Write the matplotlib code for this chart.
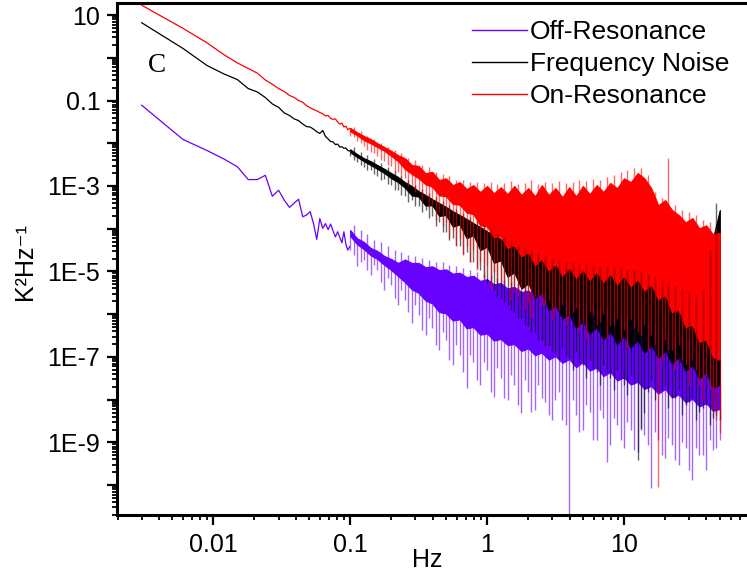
import numpy as np
import matplotlib.pyplot as plt
from matplotlib.lines import Line2D
from matplotlib.ticker import FixedLocator, LogLocator, FuncFormatter, NullFormatter

plt.rcParams['font.family'] = ['Liberation Sans', 'DejaVu Sans']

# Low frequency bins (Hz), clean part of the spectra
f_low = [0.003, 0.006, 0.009, 0.012, 0.015, 0.018, 0.021, 0.024, 0.027, 0.030,
         0.033, 0.036, 0.039, 0.042, 0.045, 0.048, 0.051, 0.054, 0.057, 0.060,
         0.063, 0.066, 0.069, 0.072, 0.075, 0.078, 0.081, 0.084, 0.087, 0.090,
         0.093, 0.096, 0.099]

# log10 of PSD (K^2/Hz)
off_low = [-1.11, -1.91, -2.17, -2.37, -2.55, -2.85, -2.85, -2.75, -3.24, -3.10,
           -3.33, -3.50, -3.40, -3.31, -3.72, -3.68, -3.60, -3.88, -4.25, -3.76,
           -3.99, -3.88, -4.02, -3.89, -4.05, -4.19, -4.07, -4.20, -4.33, -4.07,
           -4.36, -4.50, -4.42]
fn_low = [0.82, 0.22, -0.18, -0.38, -0.51, -0.72, -0.80, -0.93, -1.08, -1.16,
          -1.29, -1.35, -1.43, -1.47, -1.55, -1.61, -1.62, -1.67, -1.73, -1.77,
          -1.70, -1.84, -1.90, -1.96, -1.97, -2.03, -2.02, -2.09, -2.08, -2.12,
          -2.11, -2.17, -2.18]
on_low = [1.23, 0.69, 0.35, 0.07, -0.12, -0.25, -0.36, -0.52, -0.62, -0.72,
          -0.79, -0.88, -0.93, -1.00, -1.04, -1.12, -1.17, -1.21, -1.24, -1.28,
          -1.31, -1.36, -1.35, -1.42, -1.44, -1.43, -1.50, -1.55, -1.53, -1.62,
          -1.60, -1.68, -1.66]

# Noisy part: frequencies, with top of band, bottom of solid band, deepest dips
f_dense = [0.100, 0.112, 0.126, 0.141, 0.158, 0.178, 0.200, 0.224, 0.251, 0.282,
           0.316, 0.355, 0.398, 0.447, 0.501, 0.562, 0.631, 0.708, 0.794, 0.891,
           1.00, 1.12, 1.26, 1.41, 1.58, 1.78, 2.00, 2.24, 2.51, 2.82,
           3.16, 3.55, 3.98, 4.47, 5.01, 5.62, 6.31, 7.08, 7.94, 8.91,
           10.0, 11.2, 12.6, 14.1, 15.8, 17.8, 20.0, 22.4, 25.1, 28.2,
           31.6, 35.5, 39.8, 44.7, 50.1]

off_top = [-4.03, -4.22, -4.31, -4.45, -4.52, -4.64, -4.71, -4.80, -4.72, -4.80,
           -4.80, -4.90, -4.88, -4.97, -4.95, -5.05, -5.03, -5.13, -5.10, -5.22,
           -5.18, -5.30, -5.27, -5.40, -5.36, -5.48, -5.45, -5.56, -5.53, -5.64,
           -5.61, -5.71, -5.68, -5.78, -5.76, -5.85, -5.84, -5.92, -5.91, -6.00,
           -6.00, -6.08, -6.08, -6.18, -6.19, -6.30, -6.31, -6.42, -6.43, -6.54,
           -6.55, -6.66, -6.67, -6.77, -6.78]
off_bot = [-4.17, -4.36, -4.48, -4.62, -4.71, -4.85, -4.97, -5.11, -5.25, -5.42,
           -5.50, -5.68, -5.75, -5.95, -5.98, -6.15, -6.12, -6.33, -6.30, -6.48,
           -6.45, -6.62, -6.58, -6.72, -6.70, -6.86, -6.80, -6.96, -6.90, -7.06,
           -6.98, -7.14, -7.05, -7.24, -7.12, -7.32, -7.25, -7.45, -7.35, -7.55,
           -7.48, -7.65, -7.58, -7.75, -7.68, -7.86, -7.75, -7.95, -7.88, -8.06,
           -7.98, -8.16, -8.08, -8.26, -8.22]
off_dip = [-4.50, -4.87, -4.73, -5.09, -4.97, -5.44, -5.32, -5.79, -5.67, -6.21,
           -6.02, -6.49, -6.33, -6.84, -6.61, -7.19, -6.96, -7.73, -7.12, -7.66,
           -7.31, -7.94, -7.50, -8.01, -7.66, -8.31, -7.82, -8.24, -7.96, -8.36,
           -8.01, -8.48, -10.9, -8.36, -8.71, -8.29, -8.95, -8.43, -9.06, -8.60,
           -9.13, -8.71, -9.23, -8.83, -10.07, -8.95, -9.37, -9.06, -9.53, -9.13,
           -9.88, -9.30, -9.65, -9.18, -8.95]

fn_top = [-2.14, -2.25, -2.35, -2.42, -2.51, -2.60, -2.70, -2.79, -2.91, -3.00,
          -3.12, -3.21, -3.31, -3.40, -3.49, -3.59, -3.68, -3.77, -3.87, -3.96,
          -4.06, -4.15, -4.24, -4.34, -4.41, -4.48, -4.55, -4.62, -4.69, -4.73,
          -4.78, -4.80, -4.83, -4.85, -4.87, -4.90, -4.92, -4.92, -4.94, -4.97,
          -4.99, -5.02, -5.06, -5.11, -5.18, -5.25, -5.32, -5.39, -5.46, -5.53,
          -5.60, -5.67, -5.32, -4.22, -3.56]
fn_bot = [-2.21, -2.32, -2.42, -2.51, -2.60, -2.70, -2.82, -2.91, -3.04, -3.22,
          -3.25, -3.46, -3.45, -3.70, -3.68, -3.95, -3.90, -4.22, -4.15, -4.50,
          -4.42, -4.80, -4.74, -5.12, -5.02, -5.40, -5.28, -5.62, -5.50, -5.90,
          -5.78, -6.10, -6.00, -6.32, -6.15, -6.45, -6.30, -6.58, -6.40, -6.70,
          -6.50, -6.78, -6.60, -6.90, -6.72, -7.02, -6.85, -7.15, -7.00, -7.32,
          -7.18, -7.50, -7.35, -7.72, -7.65]
fn_dip = [-2.30, -2.44, -2.56, -2.63, -2.77, -2.84, -2.98, -3.10, -3.24, -3.33,
          -3.47, -3.56, -3.70, -3.85, -4.08, -4.22, -4.41, -4.55, -4.78, -4.97,
          -5.25, -5.44, -5.62, -5.79, -5.95, -6.09, -6.28, -6.42, -6.61, -6.72,
          -6.89, -6.79, -7.03, -6.89, -7.19, -7.07, -7.36, -7.19, -7.50, -7.31,
          -7.66, -7.43, -9.41, -8.31, -7.54, -7.82, -7.66, -7.96, -7.78, -8.13,
          -7.96, -8.29, -8.13, -8.43, -8.48]

on_top = [-1.64, -1.74, -1.83, -1.90, -2.00, -2.09, -2.18, -2.28, -2.35, -2.51,
          -2.53, -2.70, -2.67, -2.86, -2.82, -2.98, -2.91, -3.07, -2.98, -3.14,
          -3.00, -3.17, -3.03, -3.19, -3.00, -3.21, -3.05, -3.24, -2.98, -3.21,
          -3.05, -3.26, -3.03, -3.24, -3.00, -3.19, -2.98, -3.14, -2.93, -3.05,
          -2.82, -2.91, -2.70, -2.82, -3.05, -3.45, -3.33, -3.56, -3.68, -3.85,
          -3.75, -3.99, -3.92, -4.13, -4.10]
on_bot = [-1.72, -1.81, -1.93, -2.00, -2.09, -2.18, -2.30, -2.42, -2.60, -2.72,
          -2.82, -2.96, -3.02, -3.22, -3.24, -3.42, -3.44, -3.62, -3.66, -3.92,
          -3.95, -4.20, -4.18, -4.45, -4.38, -4.65, -4.55, -4.85, -4.70, -4.98,
          -4.82, -5.10, -4.90, -5.15, -4.95, -5.20, -5.00, -5.25, -5.05, -5.30,
          -5.10, -5.35, -5.18, -5.45, -5.30, -5.65, -5.55, -5.95, -5.90, -6.30,
          -6.25, -6.65, -6.60, -7.00, -7.07]
on_dip = [-1.83, -1.95, -2.07, -2.21, -2.30, -2.42, -2.53, -2.67, -2.82, -2.98,
          -3.14, -3.24, -3.45, -3.61, -3.85, -4.03, -4.22, -4.41, -4.50, -4.78,
          -4.85, -5.02, -5.25, -5.16, -5.48, -5.39, -5.72, -5.58, -5.79, -5.67,
          -5.95, -5.79, -6.09, -5.86, -6.19, -5.95, -6.26, -6.00, -6.28, -6.09,
          -6.37, -6.14, -6.42, -6.26, -6.49, -10.05, -6.61, -6.84, -6.72, -7.19,
          -7.07, -7.66, -7.43, -8.24, -8.78]

# In-between bins: highest and lowest excursion of each trace
f_mid = [0.106, 0.119, 0.133, 0.150, 0.168, 0.188, 0.211, 0.237, 0.266, 0.299,
         0.335, 0.376, 0.422, 0.473, 0.531, 0.596, 0.668, 0.750, 0.841, 0.944,
         1.06, 1.19, 1.33, 1.50, 1.68, 1.88, 2.11, 2.37, 2.66, 2.99,
         3.35, 3.76, 4.22, 4.73, 5.31, 5.96, 6.68, 7.50, 8.41, 9.44,
         10.6, 11.9, 13.3, 15.0, 16.8, 18.8, 21.1, 23.7, 26.6, 29.9,
         33.5, 37.6, 42.2, 47.3]

off_mid_peak = [-3.92, -4.03, -4.13, -4.27, -4.31, -4.41, -4.50, -4.55, -4.62, -4.64,
                -4.69, -4.73, -4.78, -4.78, -4.85, -4.87, -4.92, -4.97, -5.02, -5.06,
                -5.11, -5.16, -5.20, -5.25, -5.30, -5.34, -5.39, -5.44, -5.48, -5.53,
                -5.58, -5.62, -5.67, -5.72, -5.76, -5.81, -5.86, -5.90, -5.95, -6.00,
                -6.04, -6.09, -6.14, -6.19, -6.26, -6.33, -6.37, -6.44, -6.51, -6.58,
                -6.65, -6.72, -6.79, -6.84]
off_mid_dip = [-4.62, -4.78, -4.97, -4.85, -5.25, -5.16, -5.62, -5.44, -5.95, -5.79,
               -6.37, -6.09, -6.72, -6.42, -7.07, -6.72, -7.36, -6.96, -7.54, -7.12,
               -7.82, -7.26, -7.96, -7.43, -8.13, -7.54, -8.29, -7.66, -8.06, -8.48,
               -7.82, -8.60, -8.01, -8.76, -8.13, -8.95, -8.24, -9.46, -8.43, -8.95,
               -8.53, -9.18, -8.67, -9.06, -8.76, -9.30, -8.90, -9.41, -8.99, -9.65,
               -9.13, -9.30, -8.95, -9.13]

fn_mid_peak = [-2.09, -2.21, -2.28, -2.37, -2.46, -2.56, -2.65, -2.77, -2.86, -2.98,
               -3.07, -3.17, -3.26, -3.35, -3.45, -3.54, -3.63, -3.73, -3.82, -3.92,
               -4.01, -4.10, -4.20, -4.29, -4.36, -4.43, -4.50, -4.57, -4.64, -4.69,
               -4.73, -4.76, -4.78, -4.80, -4.83, -4.85, -4.87, -4.87, -4.90, -4.92,
               -4.94, -4.97, -5.02, -5.06, -5.13, -5.20, -5.27, -5.34, -5.41, -5.48,
               -5.55, -5.44, -4.50, -3.40]
fn_mid_dip = [-2.39, -2.51, -2.63, -2.72, -2.86, -2.96, -3.10, -3.21, -3.38, -3.47,
              -3.61, -3.75, -3.94, -4.08, -4.27, -4.41, -4.59, -4.78, -4.92, -5.16,
              -5.34, -5.58, -5.72, -5.90, -6.09, -6.26, -6.42, -6.61, -6.75, -6.89,
              -7.07, -6.98, -7.31, -7.12, -7.50, -7.26, -7.66, -7.36, -7.78, -7.50,
              -7.89, -7.61, -8.71, -7.82, -8.01, -7.78, -8.20, -7.96, -8.36, -8.06,
              -8.48, -8.20, -8.60, -8.36]

on_mid_peak = [-1.62, -1.72, -1.83, -1.90, -2.00, -2.09, -2.16, -2.23, -2.35, -2.39,
               -2.51, -2.56, -2.67, -2.72, -2.77, -2.86, -2.86, -2.91, -2.91, -2.93,
               -2.91, -2.96, -2.93, -2.89, -2.96, -2.93, -2.86, -2.96, -2.91, -2.93,
               -2.89, -2.93, -2.91, -2.86, -2.89, -2.84, -2.86, -2.79, -2.74, -2.67,
               -2.63, -2.58, -2.58, -2.74, -3.14, -3.28, -2.35, -3.45, -3.56, -3.61,
               -3.68, -3.80, -3.85, -3.99]
on_mid_dip = [-1.86, -2.00, -2.16, -2.23, -2.39, -2.51, -2.67, -2.82, -3.00, -3.14,
              -3.38, -3.52, -3.80, -3.94, -4.22, -4.38, -4.62, -4.78, -4.97, -5.20,
              -5.44, -5.25, -5.32, -5.67, -5.58, -5.90, -6.09, -5.62, -5.79, -6.14,
              -5.90, -6.26, -5.95, -6.37, -6.61, -6.02, -6.19, -6.56, -6.26, -6.61,
              -6.79, -6.33, -6.49, -6.84, -6.72, -7.07, -6.84, -7.31, -7.07, -7.66,
              -7.31, -8.01, -7.78, -8.48]

labels = ['Off-Resonance', 'Frequency Noise', 'On-Resonance']
colors = ['#6600ff', '#000000', '#ff0000']

fig = plt.figure(figsize=(7.47, 5.73), dpi=100)
ax = fig.add_axes([0.1566, 0.1012, 0.862, 0.8935])
ax.set_xscale('log')
ax.set_yscale('log')


def draw_series(low, top, bot, dip, mid_peak, mid_dip, color):
    ax.plot(f_low, 10 ** np.array(low), color=color, lw=0.9)
    ax.fill_between(f_dense, 10 ** np.array(bot), 10 ** np.array(top),
                    color=color, lw=0.8)
    ax.vlines(f_dense, 10 ** np.array(dip), 10 ** np.array(bot),
              colors=color, lw=1.0, alpha=0.6)
    ax.vlines(f_mid, 10 ** np.array(mid_dip), 10 ** np.array(mid_peak),
              colors=color, lw=1.0, alpha=0.6)


draw_series(off_low, off_top, off_bot, off_dip, off_mid_peak, off_mid_dip, colors[0])
draw_series(fn_low, fn_top, fn_bot, fn_dip, fn_mid_peak, fn_mid_dip, colors[1])
draw_series(on_low, on_top, on_bot, on_dip, on_mid_peak, on_mid_dip, colors[2])

ax.set_xlim(0.00198, 100)
ax.set_ylim(2.0e-11, 19.1)

# ticks
ax.xaxis.set_major_locator(FixedLocator([0.01, 0.1, 1, 10]))
ax.xaxis.set_minor_locator(LogLocator(base=10, subs=np.arange(2, 10), numticks=50))
ax.xaxis.set_major_formatter(FuncFormatter(
    lambda v, p: {0.01: '0.01', 0.1: '0.1', 1: '1', 10: '10'}.get(round(v, 4), '')))
ax.xaxis.set_minor_formatter(NullFormatter())

ylab = {1: '10', -1: '0.1', -3: '1E-3', -5: '1E-5', -7: '1E-7', -9: '1E-9'}
ax.yaxis.set_major_locator(FixedLocator(10.0 ** np.arange(-10, 2)))
ax.yaxis.set_minor_locator(LogLocator(base=10, subs=np.arange(2, 10), numticks=50))
ax.yaxis.set_major_formatter(FuncFormatter(
    lambda v, p: ylab.get(int(round(np.log10(v))), '')))
ax.yaxis.set_minor_formatter(NullFormatter())

ax.tick_params(which='major', direction='out', length=7, width=1.6,
               labelsize=18, pad=5)
ax.tick_params(which='minor', direction='out', length=3.5, width=1.3)
ax.tick_params(axis='x', which='major', pad=6)

for s in ['left', 'bottom', 'top']:
    ax.spines[s].set_linewidth(2.2)
ax.spines['right'].set_visible(False)

fig.text(427 / 747, 1 - 560 / 573, 'Hz', fontsize=18, ha='center', va='center')
fig.text(25 / 747, 1 - 262 / 573, 'K\u00b2Hz\u207b\u00b9', fontsize=18,
         family=['Liberation Sans', 'DejaVu Sans'],
         rotation=90, ha='center', va='center')
fig.text(157 / 747, 1 - 65 / 573, 'C', family='Liberation Serif', fontsize=19.5,
         ha='center', va='center')

handles = [Line2D([], [], color=c, lw=1) for c in colors]
ax.legend(handles, labels, loc='upper left', bbox_to_anchor=(472 / 747, 1 - 20 / 573),
          bbox_transform=fig.transFigure, frameon=False, fontsize=19,
          handlelength=2.1, handletextpad=0.1, labelspacing=0.3,
          borderpad=0, borderaxespad=0)

fig.savefig('out.png', dpi=100)
